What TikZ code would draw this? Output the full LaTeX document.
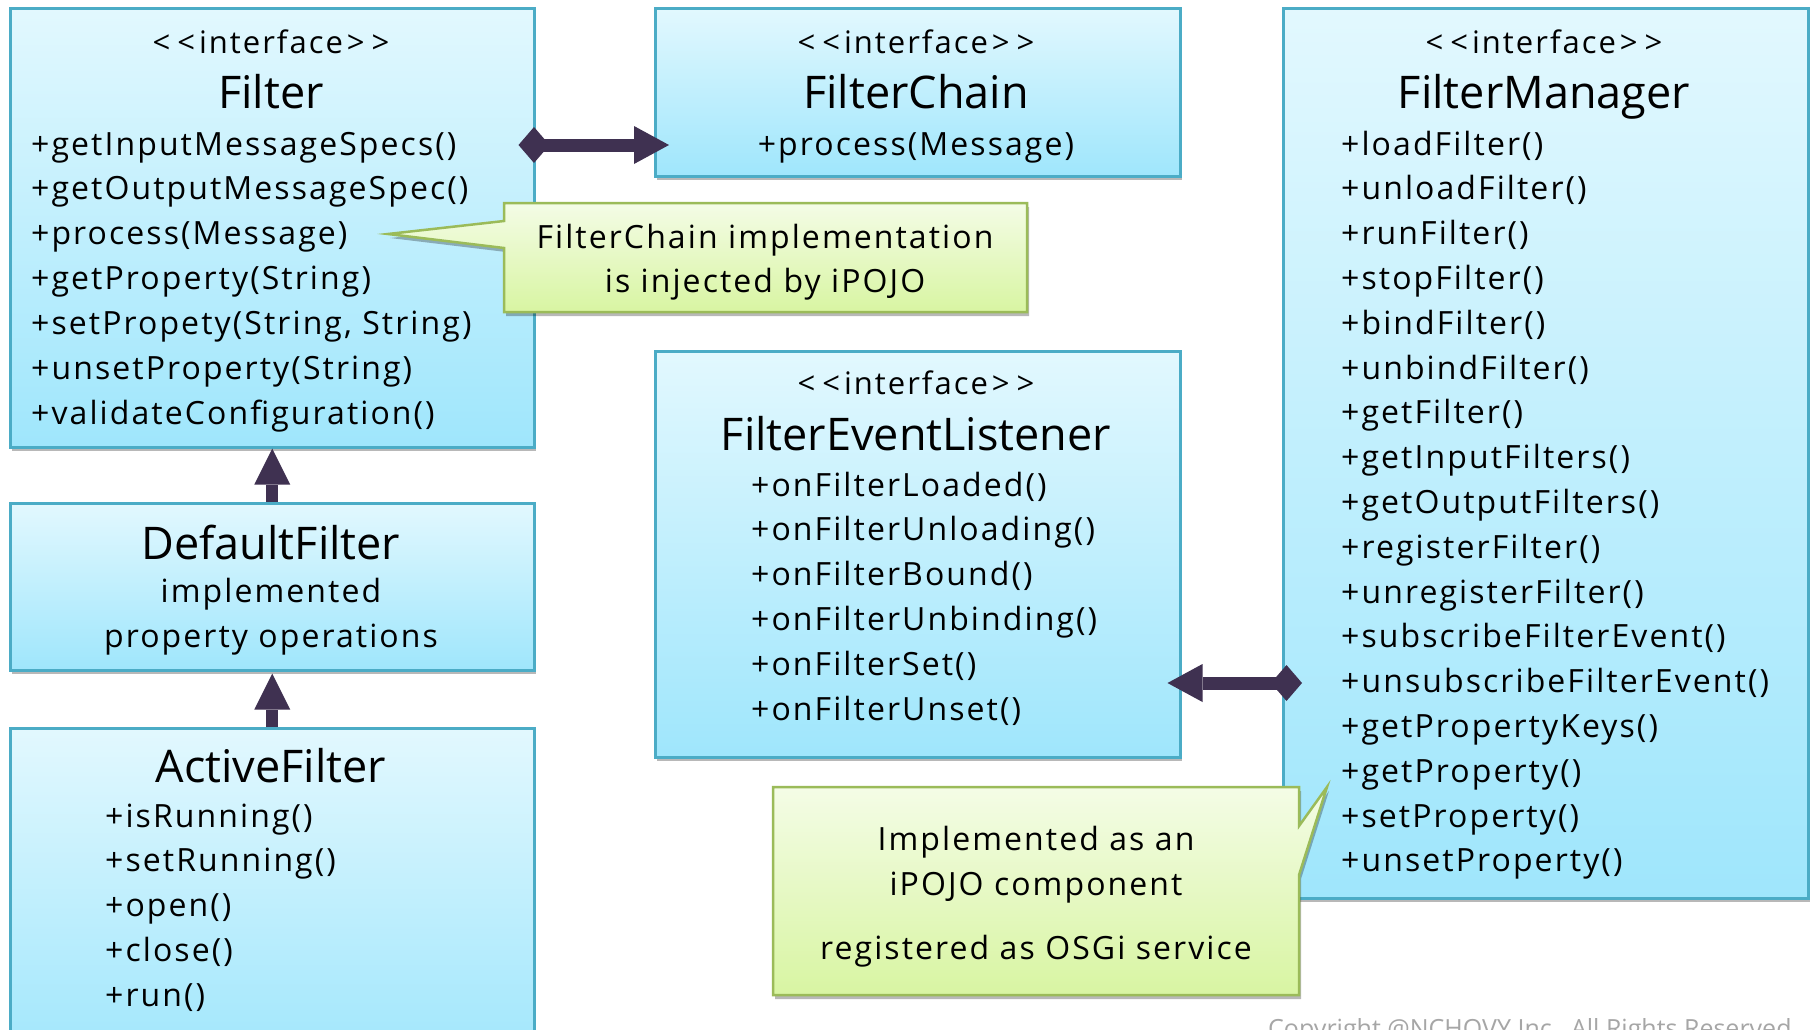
\documentclass[tikz,border=0pt]{standalone}
\usepackage{fontspec}
\setmainfont{Open Sans}
\newfontfamily\spacedfont{Open Sans}[LetterSpace=6.5]
\usetikzlibrary{arrows.meta,shadows,calc}

\definecolor{boxtop}{HTML}{E2F8FE}
\definecolor{boxbot}{HTML}{9FE6FC}
\definecolor{boxline}{HTML}{4BACC6}
\definecolor{notetop}{HTML}{F4FCE6}
\definecolor{notebot}{HTML}{D8F5A2}
\definecolor{noteline}{HTML}{9BBB59}
\definecolor{linkcol}{HTML}{3F3151}
\definecolor{copycol}{HTML}{A6A6A6}

\newcommand{\stereo}{<\kern7pt<\kern4pt interface\kern4pt>\kern7pt>}

\begin{document}
\begin{tikzpicture}[x=1pt,y=-1pt,
  softshadow/.style={drop shadow={shadow xshift=2pt,shadow yshift=-4pt,opacity=0.28,fill=black}},
  umlbox/.style={rectangle,draw=boxline,line width=2.5pt,top color=boxtop,bottom color=boxbot,
    anchor=north west,inner sep=0pt,softshadow},
  notebox/.style={draw=noteline,line width=2.5pt,top color=notetop,bottom color=notebot,
    line join=miter,softshadow},
  stereotype/.style={anchor=base,inner sep=0pt,font=\spacedfont\fontsize{31}{37}\selectfont},
  classname/.style={anchor=base,inner sep=0pt,font=\fontsize{45}{54}\selectfont},
  member/.style={anchor=base west,inner sep=0pt,font=\spacedfont\fontsize{32}{38}\selectfont},
  centered/.style={anchor=base,inner sep=0pt,font=\spacedfont\fontsize{32}{38}\selectfont},
  composition/.style={draw=linkcol,line width=13pt,
    {Diamond[length=31pt,width=36pt,line width=0pt]}-{Triangle[length=35pt,width=38pt,line width=0pt]}},
  inheritance/.style={draw=linkcol,line width=12pt,
    -{Triangle[length=36pt,width=36pt,line width=0pt]}}
]
\path[use as bounding box] (0,0) rectangle (1810,1029);
\clip (0,0) rectangle (1810,1029);
\fill[white] (0,0) rectangle (1810,1029);

% ---- class boxes ----
\node[umlbox,minimum width=524pt,minimum height=439pt] (filter)   at (9,7)    {};
\node[umlbox,minimum width=525pt,minimum height=168pt] (chain)    at (654,7)  {};
\node[umlbox,minimum width=525pt,minimum height=890pt] (manager)  at (1282,7) {};
\node[umlbox,minimum width=525pt,minimum height=406pt] (listener) at (654,350) {};
\node[umlbox,minimum width=524pt,minimum height=167pt] (default)  at (9,502)  {};
\node[umlbox,minimum width=524pt,minimum height=340pt] (active)   at (9,727)  {};

% ---- Filter ----
\node[stereotype] (filterst) at (271,53) {\stereo};
\node[classname] (filtername) at (271,108) {Filter};
\foreach \m [count=\i from 0] in {+getInputMessageSpecs(),+getOutputMessageSpec(),
    +process(Message),+getProperty(String),{+setPropety(String, String)},
    +unsetProperty(String),+validateConfiguration()}
  \node[member] (filterm\i) at (31,155+44.9*\i) {\m};

% ---- FilterChain ----
\node[stereotype] (chainst) at (916,53) {\stereo};
\node[classname] (chainname) at (916,108) {FilterChain};
\node[centered] (chainm0) at (916,155) {+process(Message)};

% ---- FilterManager ----
\node[stereotype] (managerst) at (1544,53) {\stereo};
\node[classname] (managername) at (1544,108) {FilterManager};
\foreach \m [count=\i from 0] in {+loadFilter(),+unloadFilter(),+runFilter(),+stopFilter(),
    +bindFilter(),+unbindFilter(),+getFilter(),+getInputFilters(),+getOutputFilters(),
    +registerFilter(),+unregisterFilter(),+subscribeFilterEvent(),+unsubscribeFilterEvent(),
    +getPropertyKeys(),+getProperty(),+setProperty(),+unsetProperty()}
  \node[member] (managerm\i) at (1341,155+44.8*\i) {\m};

% ---- FilterEventListener ----
\node[stereotype] (listenerst) at (916,394) {\stereo};
\node[classname] (listenername) at (916,450) {FilterEventListener};
\foreach \m [count=\i from 0] in {+onFilterLoaded(),+onFilterUnloading(),+onFilterBound(),
    +onFilterUnbinding(),+onFilterSet(),+onFilterUnset()}
  \node[member] (listenerm\i) at (751,496+44.8*\i) {\m};

% ---- DefaultFilter ----
\node[classname] (defaultname) at (271,559) {DefaultFilter};
\node[centered] (defaultl0) at (271,602) {implemented};
\node[centered] (defaultl1) at (271,647) {property operations};

% ---- ActiveFilter ----
\node[classname] (activename) at (271,782) {ActiveFilter};
\foreach \m [count=\i from 0] in {+isRunning(),+setRunning(),+open(),+close(),+run()}
  \node[member] (activem\i) at (105,827+44.9*\i) {\m};

% ---- relations ----
\draw[inheritance] (default.north) -- (filter.south);
\draw[inheritance] (active.north) -- ([yshift=-2pt]default.south);
\draw[composition] ($(filter.north east)+(-17,138)$) -- ($(chain.north west)+(15,138)$);
\draw[composition] ($(manager.north west)+(20,676)$) -- ($(listener.north east)+(-14,333)$);

% ---- notes ----
\coordinate (tipA) at (388,234);
\path[notebox] (504,203) -- (1027,203) -- (1027,312) -- (504,312) -- (504,248)
  -- (tipA) -- (504,221) -- cycle;
\node[centered] (noteA0) at (765,248) {FilterChain implementation};
\node[centered] (noteA1) at (765,292) {is injected by iPOJO};

\coordinate (tipB) at (1327,787);
\path[notebox] (773,787) -- (1299,787) -- (1299,826) -- (tipB) -- (1299,875)
  -- (1299,995) -- (773,995) -- cycle;
\node[centered] (noteB0) at (1036,850) {Implemented as an};
\node[centered] (noteB1) at (1036,895) {iPOJO component};
\node[centered] (noteB2) at (1036,959) {registered as OSGi service};

% ---- footer ----
\node[anchor=base west,inner sep=0pt,text=copycol,font=\fontsize{25}{30}\selectfont]
  (copyright) at (1268,1037) {Copyright @NCHOVY Inc., All Rights Reserved};
\end{tikzpicture}
\end{document}
